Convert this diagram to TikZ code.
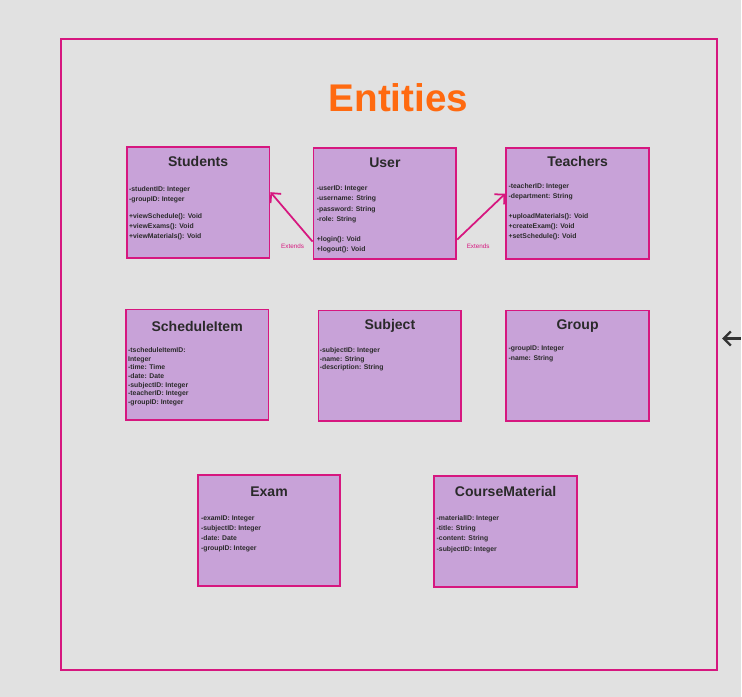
\documentclass[tikz,border=0pt]{standalone}
\usepackage{fontspec}
\setmainfont{Liberation Sans}
\usetikzlibrary{arrows.meta,positioning,calc}

\definecolor{bggray}{HTML}{E1E1E1}
\definecolor{pinkline}{HTML}{D6177F}
\definecolor{boxfill}{HTML}{C8A2D8}
\definecolor{titleorange}{HTML}{FF6A10}
\definecolor{inkdark}{HTML}{2A2A2A}
\definecolor{pointgray}{HTML}{333333}

\begin{document}
\begin{tikzpicture}[x=0.02cm, y=-0.02cm,
    entity/.style={draw=pinkline, fill=boxfill, line width=1.1pt, minimum width=2.86cm, minimum height=2.22cm, anchor=north west, inner sep=0pt},
    entname/.style={anchor=base, font=\bfseries\fontsize{8}{9}\selectfont, text=inkdark, inner sep=0pt},
    fields/.style={anchor=north west, align=left, inner sep=0pt, text=inkdark, font=\bfseries\fontsize{3.9}{5.8}\selectfont},
    fieldstight/.style={fields, font=\bfseries\fontsize{3.9}{4.9}\selectfont},
    extends/.style={-{Straight Barb[length=4pt,width=8pt]}, draw=pinkline, line width=1pt},
    extlabel/.style={text=pinkline, font=\fontsize{3.6}{4}\selectfont, inner sep=0pt}]

    % background and frame
    \fill[bggray] (0,0) rectangle (742,698);
    \node[draw=pinkline, line width=1.1pt, minimum width=13.14cm, minimum height=12.64cm, anchor=north west, inner sep=0pt] (frame) at (60,38) {};

    \node[font=\bfseries\fontsize{22}{24}\selectfont, text=titleorange] (heading) at (399,98) {Entities};

    % first row
    \node[entity] (students) at (126,146) {};
    \node[entname] (studentsname) at ($(students.north)+(0,21)$) {Students};
    \node[fields] (studentsfields) at ($(students.north west)+(3,40)$) {-studentID: Integer\\-groupID: Integer\\[4pt]+viewSchedule(): Void\\+viewExams(): Void\\+viewMaterials(): Void};

    \node[entity] (user) at (313,147) {};
    \node[entname] (username) at ($(user.north)+(0,21)$) {User};
    \node[fields] (userfields) at ($(user.north west)+(4,39)$) {-userID: Integer\\-username: String\\-password: String\\-role: String\\[5.5pt]+login(): Void\\+logout(): Void};

    \node[entity] (teachers) at (506,147) {};
    \node[entname] (teachersname) at ($(teachers.north)+(0,20)$) {Teachers};
    \node[fields] (teachersfields) at ($(teachers.north west)+(3,36)$) {-teacherID: Integer\\-department: String\\[5.5pt]+uploadMaterials(): Void\\+createExam(): Void\\+setSchedule(): Void};

    % second row
    \node[entity] (schedule) at (125,309) {};
    \node[entname] (schedulename) at ($(schedule.north)+(0,23)$) {ScheduleItem};
    \node[fieldstight] (schedulefields) at ($(schedule.north west)+(3,39)$) {-tscheduleItemID:\\Integer\\-time: Time\\-date: Date\\-subjectID: Integer\\-teacherID: Integer\\-groupID: Integer};

    \node[entity] (subject) at (318,310) {};
    \node[entname] (subjectname) at ($(subject.north)+(0,20)$) {Subject};
    \node[fieldstight] (subjectfields) at ($(subject.north west)+(2,38)$) {-subjectID: Integer\\-name: String\\-description: String};

    \node[entity] (group) at (506,310) {};
    \node[entname] (groupname) at ($(group.north)+(0,20)$) {Group};
    \node[fields] (groupfields) at ($(group.north west)+(3,36)$) {-groupID: Integer\\-name: String};

    % third row
    \node[entity] (exam) at (197,475) {};
    \node[entname] (examname) at ($(exam.north)+(0,22)$) {Exam};
    \node[fields] (examfields) at ($(exam.north west)+(4,41)$) {-examID: Integer\\-subjectID: Integer\\-date: Date\\-groupID: Integer};

    \node[entity] (material) at (434,476) {};
    \node[entname] (materialname) at ($(material.north)+(0,21)$) {CourseMaterial};
    \node[fields] (materialfields) at ($(material.north west)+(3,40)$) {-materialID: Integer\\-title: String\\-content: String\\-subjectID: Integer};

    % inheritance
    \draw[extends] ([yshift=0.36cm]user.south west) -- ([yshift=0.2cm]students.east);
    \draw[extends] ([yshift=0.4cm]user.south east) -- ([yshift=0.19cm]teachers.west);
    \node[extlabel] (extleft) at ($(user.south west)+(-20,-13)$) {Extends};
    \node[extlabel] (extright) at ($(user.south east)+(21,-13)$) {Extends};

    % pointer at the right edge
    \coordinate (offpage) at (742,339);
    \draw[pointgray, line width=1.3pt, -{Straight Barb[length=4pt,width=8pt]}] (offpage) -- ([xshift=0.09cm]frame.east |- offpage);
\end{tikzpicture}
\end{document}
